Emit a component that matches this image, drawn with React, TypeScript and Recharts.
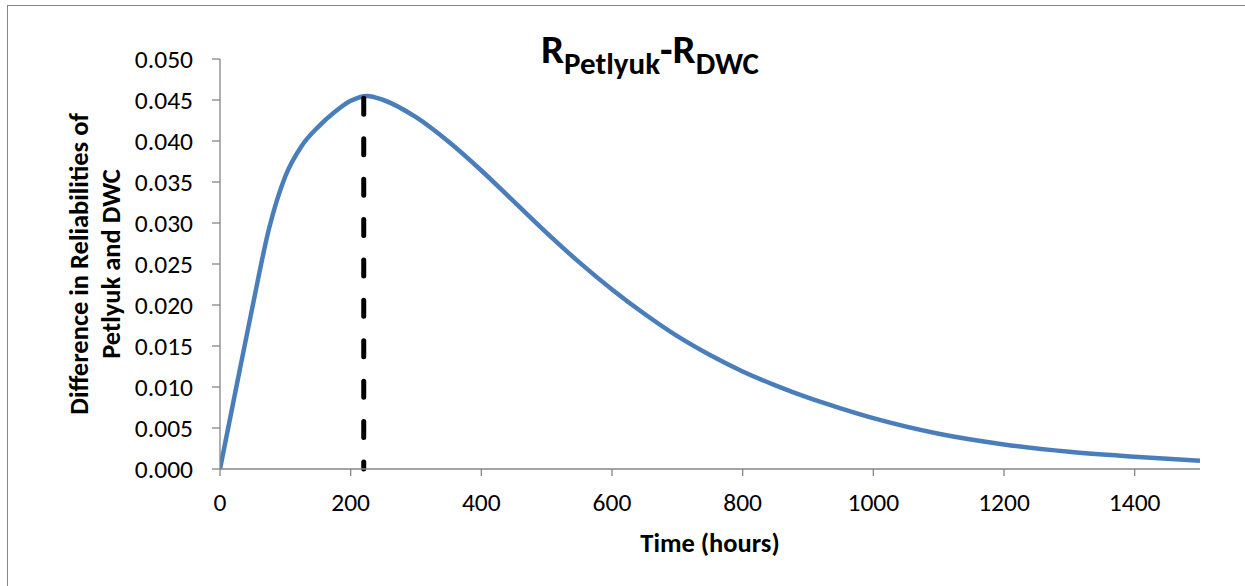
import React from "react";
import { LineChart, Line, XAxis, YAxis, ReferenceLine } from "recharts";

const times = [0, 25, 50, 75, 100, 125, 150, 175, 200, 225, 250, 300, 350, 400, 450, 500, 550, 600, 650, 700, 750, 800, 850, 900, 950, 1000, 1100, 1200, 1300, 1400, 1500];
const diffs = [0, 0.01, 0.0199, 0.0293, 0.0357, 0.0394, 0.0417, 0.0435, 0.0449, 0.0455, 0.045, 0.0429, 0.0399, 0.0364, 0.0326, 0.0288, 0.0252, 0.0219, 0.0189, 0.0162, 0.0139, 0.0119, 0.0102, 0.0087, 0.0074, 0.0062, 0.0043, 0.003, 0.0021, 0.0015, 0.001];
const xTicks = [0, 200, 400, 600, 800, 1000, 1200, 1400];
const yTicks = [0, 0.005, 0.01, 0.015, 0.02, 0.025, 0.03, 0.035, 0.04, 0.045, 0.05];
const peakTime = 220;
const peakValue = 0.0452;

const data = times.map((t, i) => ({ t, v: diffs[i] }));

const FONT = "Carlito, 'Open Sans', sans-serif";
const AXIS = "#868686";

const YLabel = () => (
  <g fontFamily={FONT} fontWeight="bold" fontSize={26.5} fill="#000">
    <text x={88} y={264} textAnchor="middle" transform="rotate(-90, 88, 264)">
      Difference in Reliabilities of
    </text>
    <text x={120} y={264} textAnchor="middle" transform="rotate(-90, 120, 264)">
      Petlyuk and DWC
    </text>
  </g>
);

const XLabel = () => (
  <text x={710} y={552} textAnchor="middle" fontFamily={FONT} fontWeight="bold" fontSize={26.5} fill="#000">
    Time (hours)
  </text>
);

export default function App() {
  return (
    <div style={{ position: "absolute", left: 0, top: 0, width: 1245, height: 586, overflow: "hidden", background: "#fff" }}>
      <div
        style={{
          position: "absolute",
          left: 7,
          top: 5,
          width: 1400,
          height: 800,
          borderTop: `1.3px solid ${AXIS}`,
          borderLeft: `1.3px solid ${AXIS}`,
        }}
      />
      <div style={{ position: "absolute", left: 0, top: 0 }}>
        <LineChart width={1245} height={586} data={data} margin={{ top: 59, right: 45, bottom: 37, left: 0 }}>
          <XAxis
            dataKey="t"
            type="number"
            domain={[0, 1500]}
            ticks={xTicks}
            allowDataOverflow
            stroke={AXIS}
            strokeWidth={1.3}
            tickSize={7}
            tickMargin={17}
            height={80}
            tick={{ fill: "#000", fontSize: 25.5, fontFamily: FONT }}
            tickLine={{ stroke: AXIS }}
            label={<XLabel />}
          />
          <YAxis
            type="number"
            domain={[0, 0.05]}
            ticks={yTicks}
            width={220}
            stroke={AXIS}
            strokeWidth={1.3}
            tickSize={8}
            tickMargin={19}
            tickFormatter={(v: number) => v.toFixed(3)}
            tick={{ fill: "#000", fontSize: 25.5, fontFamily: FONT }}
            tickLine={{ stroke: AXIS }}
            label={<YLabel />}
          />
          <Line
            type="monotone"
            dataKey="v"
            stroke="#4a7ebb"
            strokeWidth={4.5}
            dot={false}
            activeDot={false}
            isAnimationActive={false}
          />
          <ReferenceLine
            segment={[
              { x: peakTime, y: peakValue },
              { x: peakTime, y: 0 },
            ]}
            stroke="#000"
            strokeWidth={5}
            strokeDasharray="16 24.4"
            strokeLinecap="round"
          />
        </LineChart>
      </div>
      <svg style={{ position: "absolute", left: 0, top: 0 }} width={1245} height={586} pointerEvents="none">
        <text x={650} y={63} textAnchor="middle" fontFamily={FONT} fontWeight="bold" fontSize={41} fill="#000">
          R
          <tspan fontSize={31} dy={11}>Petlyuk</tspan>
          <tspan fontSize={41} dy={-11}>-R</tspan>
          <tspan fontSize={31} dy={11}>DWC</tspan>
        </text>
      </svg>
    </div>
  );
}
